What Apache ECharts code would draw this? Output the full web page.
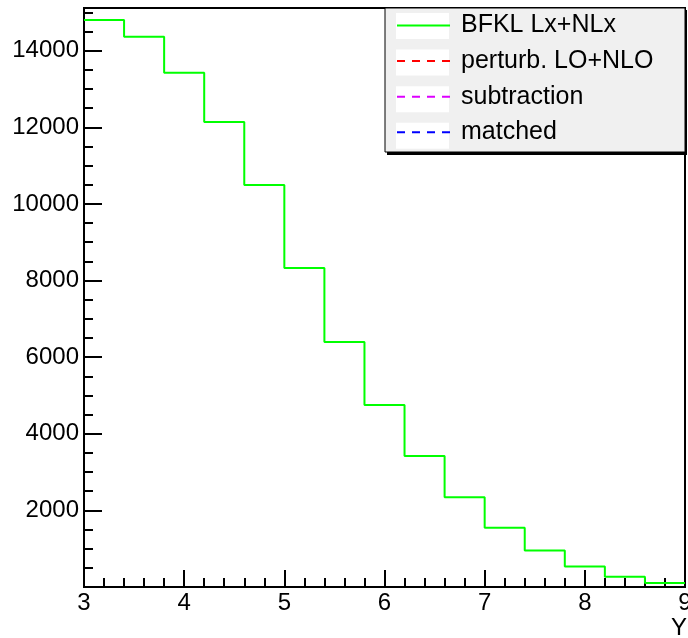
<!DOCTYPE html>
<html>
<head>
<meta charset="utf-8">
<script src="https://cdn.jsdelivr.net/npm/echarts@6/dist/echarts.min.js"></script>
<style>
  html, body { margin: 0; padding: 0; background: #fff; }
  #chart { width: 688px; height: 638px; }
</style>
</head>
<body>
<div id="chart"></div>
<script>
// bin edges of the histogram (Y) and the content of each bin
const binEdges = [3, 3.4, 3.8, 4.2, 4.6, 5, 5.4, 5.8, 6.2, 6.6, 7, 7.4, 7.8, 8.2, 8.6, 9];
const bfklValues = [14800, 14365, 13425, 12140, 10495, 8326, 6393, 4750, 3420, 2340, 1546, 956, 538, 266, 105];
const seriesNames = ['BFKL Lx+NLx', 'perturb. LO+NLO', 'subtraction', 'matched'];
const seriesColors = ['#00ff00', '#ff0000', '#dd00ff', '#0000ff'];

// step line: one point per left edge, plus the last right edge
const histData = bfklValues.map((v, i) => [binEdges[i], v]);
histData.push([binEdges[binEdges.length - 1], bfklValues[bfklValues.length - 1]]);

const chart = echarts.init(document.getElementById('chart'));
const font = 'Liberation Sans, Arial, Helvetica, sans-serif';

const option = {
  animation: false,
  backgroundColor: '#fff',
  textStyle: { fontFamily: font },
  grid: {
    left: 84, right: 3, top: 8, bottom: 51,
    containLabel: false, outerBoundsMode: 'none',
    show: true, borderColor: '#000', borderWidth: 2, backgroundColor: 'transparent'
  },
  xAxis: {
    type: 'value', min: 3, max: 9, interval: 1,
    name: 'Y', nameLocation: 'end', nameGap: 2,
    nameTextStyle: { fontSize: 24, color: '#000', align: 'right', verticalAlign: 'top', padding: [29, 0, 0, 0] },
    axisLine: { lineStyle: { color: '#000', width: 2 } },
    axisTick: { inside: true, length: 17, lineStyle: { color: '#000', width: 2 } },
    minorTick: { show: true, splitNumber: 5, length: 9, lineStyle: { color: '#000', width: 2 } },
    axisLabel: { fontSize: 24, color: '#000', margin: 4 },
    splitLine: { show: false }
  },
  yAxis: [
    {
      type: 'value', min: 0, max: 15115, interval: 2000,
      axisLine: { show: true, lineStyle: { color: '#000', width: 2 } },
      axisTick: { show: true, inside: true, length: 18, lineStyle: { color: '#000', width: 2 } },
      axisLabel: {
        fontSize: 24, color: '#000', margin: 5,
        formatter: v => (v > 0 && v % 2000 === 0) ? String(v) : ''
      },
      splitLine: { show: false }
    },
    {
      type: 'value', min: 0, max: 15115, interval: 500, position: 'left',
      axisLine: { show: false },
      axisTick: { show: true, inside: true, length: 9, lineStyle: { color: '#000', width: 2 } },
      axisLabel: { show: false },
      splitLine: { show: false }
    }
  ],
  legend: {
    orient: 'vertical', left: 396, top: 13, padding: 0,
    itemWidth: 53, itemHeight: 26, itemGap: 10.6,
    itemStyle: { opacity: 0 },
    textStyle: { fontSize: 25, color: '#000', padding: [0, 0, 0, 6] },
    data: seriesNames
  },
  graphic: [
    { type: 'rect', z: 0, shape: { x: 387, y: 10, width: 300, height: 145 }, style: { fill: '#000' } },
    { type: 'rect', z: 1, shape: { x: 385, y: 8, width: 300, height: 144 }, style: { fill: '#f0f0f0', stroke: '#000', lineWidth: 1 } },
    ...seriesNames.map((n, i) => ({
      type: 'rect', z: 2,
      shape: { x: 396, y: 13 + i * 36.6, width: 53, height: 26 },
      style: { fill: '#fff' }
    }))
  ],
  series: seriesNames.map((name, i) => ({
    name: name,
    type: 'line',
    step: i === 0 ? 'end' : false,
    symbol: 'none',
    data: i === 0 ? histData : [],
    lineStyle: { color: seriesColors[i], width: 2, type: i === 0 ? 'solid' : [8, 7] },
    itemStyle: { color: seriesColors[i] },
    z: 3
  }))
};

chart.setOption(option);
</script>
</body>
</html>
